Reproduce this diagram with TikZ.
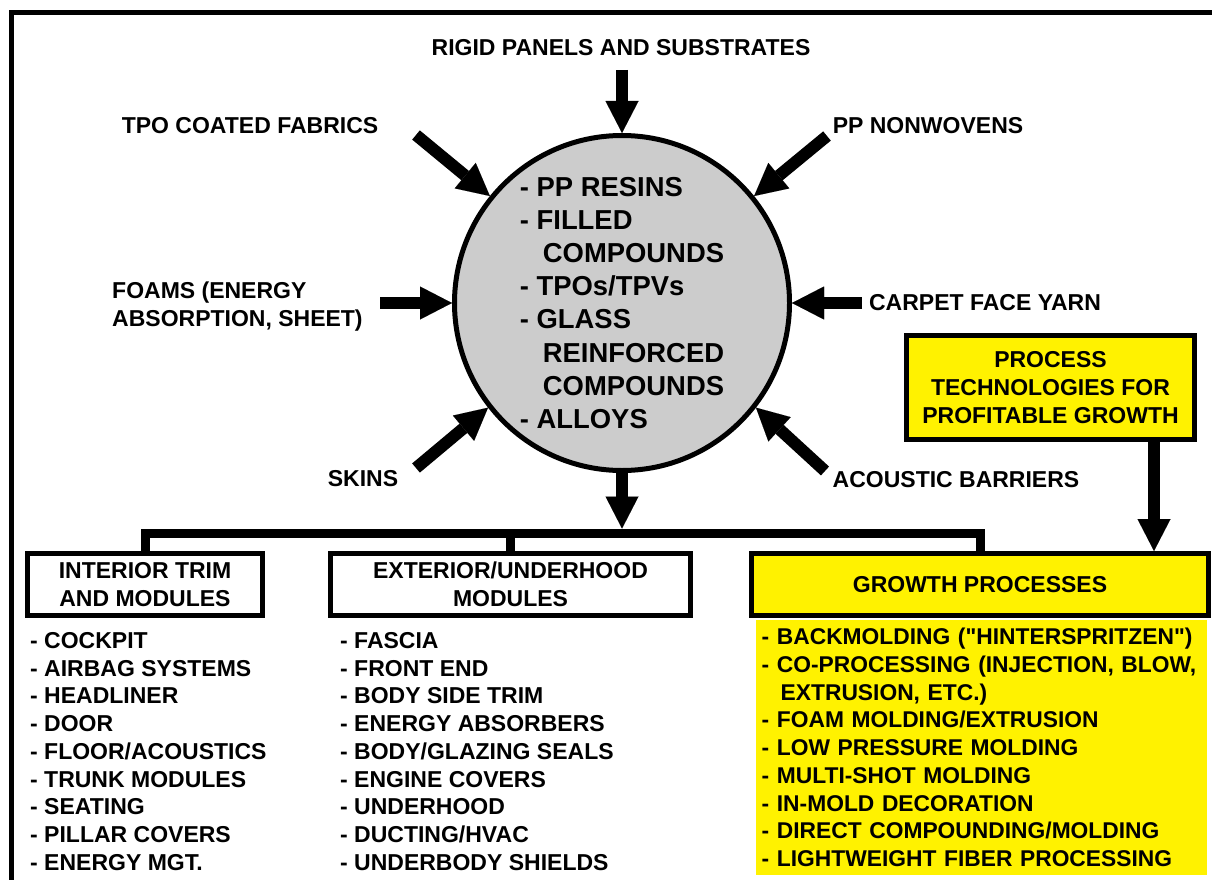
\documentclass[tikz,border=0pt]{standalone}
\usepackage{fontspec}
\setmainfont{Liberation Sans}[Ligatures=TeXOff]
\usetikzlibrary{arrows.meta,positioning}
\tikzset{
    %Define standard arrow tip
    >={Triangle[width=33pt,length=32pt,line width=0.01pt]},
    %Define style for labels
    lbl/.style={
           font=\bfseries\fontsize{23}{27.75}\selectfont,
           inner sep=0pt,
           align=left},
    %Define style for the material circle
    core/.style={
           circle,
           draw=black, line width=5pt,
           fill=black!20,
           minimum size=335pt,
           inner sep=0pt,
           font=\bfseries\fontsize{27.4}{33.1}\selectfont,
           align=left},
    %Define style for boxes
    plainbox/.style={
           rectangle,
           draw=black, line width=5pt,
           minimum height=62pt,
           inner sep=0pt,
           font=\bfseries\fontsize{23}{27.75}\selectfont,
           align=center},
    yellowbox/.style={
           plainbox,
           fill=yellow},
    % Define arrow style
    feed/.style={
           ->,
           line width=12pt},
    bus/.style={
           line width=9pt}
}

\begin{document}
\begin{tikzpicture}[x=1pt,y=-1pt]
\useasboundingbox (0,0) rectangle (1212,880);

 %frame
\draw[line width=5pt] (11.5,880) -- (11.5,12.5) -- (1212,12.5);

 %nodes
\node[core](circ) at (622,303){- PP RESINS\\- FILLED\\\hspace*{23pt}COMPOUNDS\\- TPOs/TPVs\\- GLASS\\\hspace*{23pt}REINFORCED\\\hspace*{23pt}COMPOUNDS\\- ALLOYS};

\node[lbl, anchor=base](rigid) at (621,56){RIGID PANELS AND SUBSTRATES};
\node[lbl, anchor=base](tpo) at (250,134){TPO COATED FABRICS};
\node[lbl, anchor=base](nonwov) at (928,134){PP NONWOVENS};
\node[lbl, anchor=north west](foams) at (112,282){FOAMS (ENERGY\\ABSORPTION, SHEET)};
\node[lbl, anchor=base](carpet) at (985,310){CARPET FACE YARN};
\node[lbl, anchor=base](skins) at (363,486){SKINS};
\node[lbl, anchor=base](acoustic) at (956,487){ACOUSTIC BARRIERS};

\node[yellowbox, minimum width=288pt, minimum height=104pt](procbox) at (1050.5,387.5){PROCESS\\TECHNOLOGIES FOR\\PROFITABLE GROWTH};

\node[plainbox, minimum width=235pt](intbox) at (145,584.5){INTERIOR TRIM\\AND MODULES};
\node[plainbox, minimum width=360pt](extbox) at (510.5,584.5){EXTERIOR/UNDERHOOD\\MODULES};
\node[yellowbox, minimum width=457pt](growbox) at (980,584.5){GROWTH PROCESSES};

\node[lbl, below right=14pt and 5pt of intbox.south west](intlist){- COCKPIT\\- AIRBAG SYSTEMS\\- HEADLINER\\- DOOR\\- FLOOR/ACOUSTICS\\- TRUNK MODULES\\- SEATING\\- PILLAR COVERS\\- ENERGY MGT.};
\node[lbl, below right=14pt and 12pt of extbox.south west](extlist){- FASCIA\\- FRONT END\\- BODY SIDE TRIM\\- ENERGY ABSORBERS\\- BODY/GLAZING SEALS\\- ENGINE COVERS\\- UNDERHOOD\\- DUCTING/HVAC\\- UNDERBODY SHIELDS};
\node[lbl, fill=yellow, text width=440pt, inner xsep=5.5pt, inner ysep=8pt,
      font=\bfseries\fontsize{22.8}{27.75}\selectfont,
      below right=2pt and 7pt of growbox.south west](growlist){- BACKMOLDING ("HINTERSPRITZEN")\\- CO-PROCESSING (INJECTION, BLOW,\\\hspace*{19pt}EXTRUSION, ETC.)\\- FOAM MOLDING/EXTRUSION\\- LOW PRESSURE MOLDING\\- MULTI-SHOT MOLDING\\- IN-MOLD DECORATION\\- DIRECT COMPOUNDING/MOLDING\\- LIGHTWEIGHT FIBER PROCESSING};

 %arrow tails
\coordinate (rigidend) at (622,70);
\coordinate (tpoend) at (416,135);
\coordinate (nonwovend) at (827,136);
\coordinate (foamsend) at (380,303);
\coordinate (carpetend) at (862,303);
\coordinate (skinsend) at (416,468);
\coordinate (acousticend) at (825,471);
\coordinate (bus) at (622,533);

 %arrows
\draw[feed] (rigidend) -- (circ.north);
\draw[feed] (tpoend) -- (circ.141);
\draw[feed] (nonwovend) -- (circ.39);
\draw[feed] (foamsend) -- (circ.west);
\draw[feed] (carpetend) -- (circ.east);
\draw[feed] (skinsend) -- (circ.218);
\draw[feed] (acousticend) -- (circ.322);
\draw[feed, shorten >=4.5pt] (circ.south) -- (bus);
\draw[bus] (intbox.north) |- (bus) -| (growbox.north);
\draw[bus] (extbox.north) -- (extbox.north |- bus);
\draw[feed] ([xshift=103.5pt]procbox.south) -- ([xshift=103.5pt]procbox.south |- growbox.north);

\end{tikzpicture}
\end{document}
